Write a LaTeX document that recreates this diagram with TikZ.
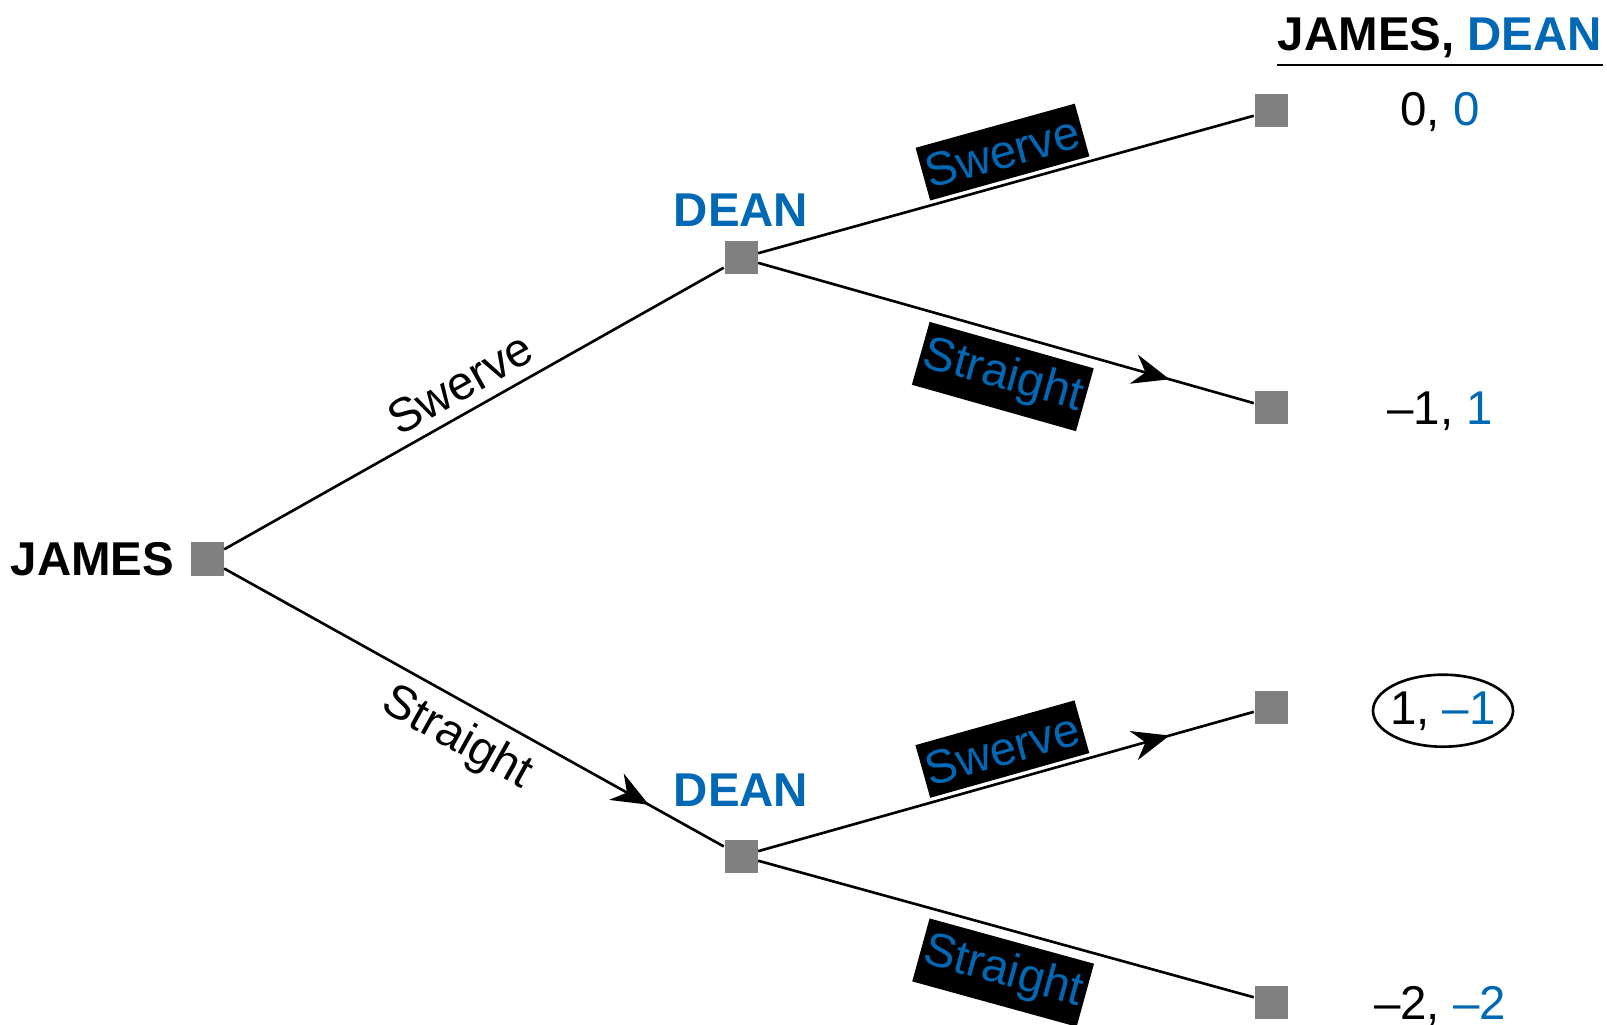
\documentclass[tikz,border=0pt]{standalone}
\usepackage{fontspec}
\setmainfont{Liberation Sans}
\definecolor{deanblue}{RGB}{0,104,180}
\definecolor{nodegray}{RGB}{128,128,128}
\usetikzlibrary{arrows.meta,positioning,decorations.markings}

\begin{document}
\begin{tikzpicture}[
    font=\fontsize{13.5}{16}\selectfont,
    sq/.style={rectangle, fill=nodegray, minimum size=0.33cm, inner sep=0pt},
    player/.style={inner sep=0pt, font=\fontsize{13.5}{16}\selectfont\bfseries},
    payoff/.style={anchor=base, inner sep=0pt},
    edge/.style={line width=0.75pt},
    arrowed/.style={edge, postaction={decorate}, decoration={markings,
        mark=at position #1 with {\arrow{Stealth[length=0.37cm, width=0.3cm, inset=0.12cm]}}}},
    move/.style={midway, sloped, inner sep=1.5pt},
    deanmove/.style={midway, sloped, fill=black, text=deanblue,
        inner xsep=1pt, inner ysep=3pt}]

\useasboundingbox (0,0) rectangle (16.07,-10.25);

% decision nodes and end points
\node[sq] (james) at (2.07,-5.59) {};
\node[sq] (deanA) at (7.41,-2.58) {};
\node[sq] (deanB) at (7.41,-8.56) {};
\node[sq] (t1) at (12.71,-1.11) {};
\node[sq] (t2) at (12.71,-4.08) {};
\node[sq] (t3) at (12.71,-7.07) {};
\node[sq] (t4) at (12.71,-10.02) {};

\node[player, left=0.15cm of james] (jamesl) {JAMES};
\node[player, text=deanblue, above=0.14cm of deanA] (deanAl) {DEAN};
\node[player, text=deanblue, above=0.32cm of deanB] (deanBl) {DEAN};

% payoffs
\node[payoff, font=\fontsize{13.5}{16}\selectfont\bfseries] (head) at (14.40,-0.51)
    {JAMES, \textcolor{deanblue}{DEAN}};
\draw[edge] ([yshift=-0.14cm]head.base west) -- ([yshift=-0.14cm]head.base east);
\node[payoff] (p1) at (14.40,-1.26) {0, \textcolor{deanblue}{0}};
\node[payoff] (p2) at (14.40,-4.25) {–1, \textcolor{deanblue}{1}};
\node[payoff] (p3) at (14.43,-7.24) {1, \textcolor{deanblue}{–1}};
\node[payoff] (p4) at (14.40,-10.19) {–2, \textcolor{deanblue}{–2}};
\draw[edge] (p3.center) ellipse [x radius=0.7cm, y radius=0.36cm];

% branches
\draw[edge] (james) -- (deanA) node[move, above=1.5pt] {Swerve};
\draw[arrowed=0.85] (james) -- (deanB) node[move, below=2pt] {Straight};
\draw[edge] (deanA) -- (t1) node[deanmove, above=1pt, xshift=1.5pt] {Swerve};
\draw[arrowed=0.83] (deanA) -- (t2) node[deanmove, below=2.5pt, xshift=2.5pt] {Straight};
\draw[arrowed=0.83] (deanB) -- (t3) node[deanmove, above=1pt, xshift=1.5pt] {Swerve};
\draw[edge] (deanB) -- (t4) node[deanmove, below=2.5pt, xshift=2.5pt] {Straight};
\end{tikzpicture}
\end{document}
